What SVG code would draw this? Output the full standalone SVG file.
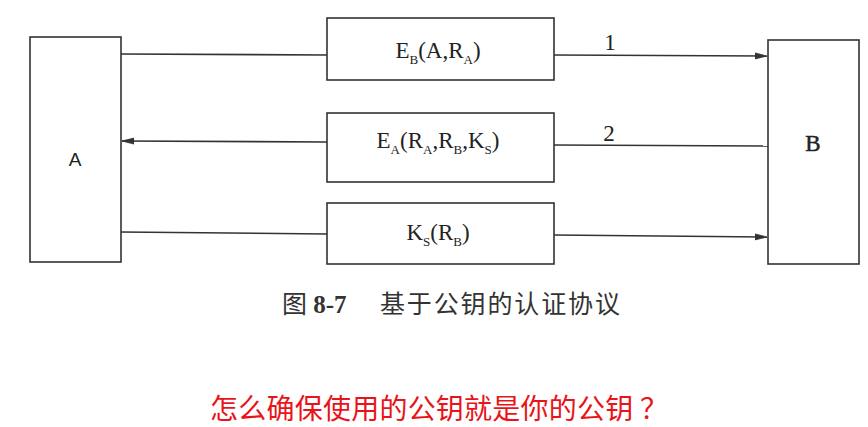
<svg xmlns="http://www.w3.org/2000/svg" width="868" height="427" viewBox="0 0 868 427">
<defs>
<marker id="ah" markerWidth="12" markerHeight="8" refX="12" refY="4" orient="auto" markerUnits="userSpaceOnUse">
<path d="M0,1 L12,4 L0,7 Z" fill="#333" stroke="#333" stroke-width="0.8"/>
</marker>
</defs>
<style>
.box{fill:#fff;stroke:#333;stroke-width:1.6}
.ln{fill:none;stroke:#333;stroke-width:1.6}
.t{font-family:"Liberation Serif","Times New Roman",serif;font-size:23px;fill:#222}
.s{font-size:13px}
.cap{font-family:"Liberation Serif","Noto Sans CJK SC",serif;font-size:25px;fill:#333}
.red{font-family:"Noto Sans CJK SC","Microsoft YaHei",sans-serif;font-size:28px;fill:#e8141a}
</style>
<rect width="868" height="427" fill="#fff"/>
<g id="connectors">
<line class="ln" x1="121" y1="54" x2="327" y2="55"/>
<line class="ln" x1="554" y1="55" x2="767" y2="56" marker-end="url(#ah)"/>
<line class="ln" x1="327" y1="142" x2="122" y2="141" marker-end="url(#ah)"/>
<line class="ln" x1="554" y1="145" x2="768" y2="146"/>
<line class="ln" x1="121" y1="232" x2="327" y2="234"/>
<line class="ln" x1="554" y1="235" x2="767" y2="237" marker-end="url(#ah)"/>
<text class="t" x="610" y="50" text-anchor="middle" font-size="19">1</text>
<text class="t" x="609" y="141" text-anchor="middle" font-size="19">2</text>
</g>
<g id="nodeA">
<rect class="box" x="30" y="37" width="91" height="225"/>
<text x="75" y="166" text-anchor="middle" style="font-family:'Liberation Sans',Arial,sans-serif;font-size:19px;fill:#222">A</text>
</g>
<g id="nodeB">
<rect class="box" x="768" y="40" width="91" height="224"/>
<text class="t" x="813" y="151" text-anchor="middle" font-size="20" stroke="#222" stroke-width="0.5">B</text>
</g>
<g id="msg1">
<rect class="box" x="327" y="18" width="227" height="62"/>
<text class="t" x="438" y="58" text-anchor="middle">E<tspan class="s" dy="6">B</tspan><tspan dy="-6">(A,R</tspan><tspan class="s" dy="6">A</tspan><tspan dy="-6">)</tspan></text>
</g>
<g id="msg2">
<rect class="box" x="327" y="113" width="227" height="69"/>
<text class="t" x="438" y="148" text-anchor="middle">E<tspan class="s" dy="6">A</tspan><tspan dy="-6">(R</tspan><tspan class="s" dy="6">A</tspan><tspan dy="-6">,R</tspan><tspan class="s" dy="6">B</tspan><tspan dy="-6">,K</tspan><tspan class="s" dy="6">S</tspan><tspan dy="-6">)</tspan></text>
</g>
<g id="msg3">
<rect class="box" x="327" y="203" width="227" height="61"/>
<text class="t" x="438" y="240" text-anchor="middle">K<tspan class="s" dy="6">S</tspan><tspan dy="-6">(R</tspan><tspan class="s" dy="6">B</tspan><tspan dy="-6">)</tspan></text>
</g>
<text class="cap" x="282" y="313">图 <tspan font-weight="bold">8-7</tspan></text>
<text class="cap" x="380" y="313" textLength="240" lengthAdjust="spacing">基于公钥的认证协议</text>
<text class="red" x="210" y="419" textLength="458" lengthAdjust="spacing">怎么确保使用的公钥就是你的公钥 ？</text>
</svg>
